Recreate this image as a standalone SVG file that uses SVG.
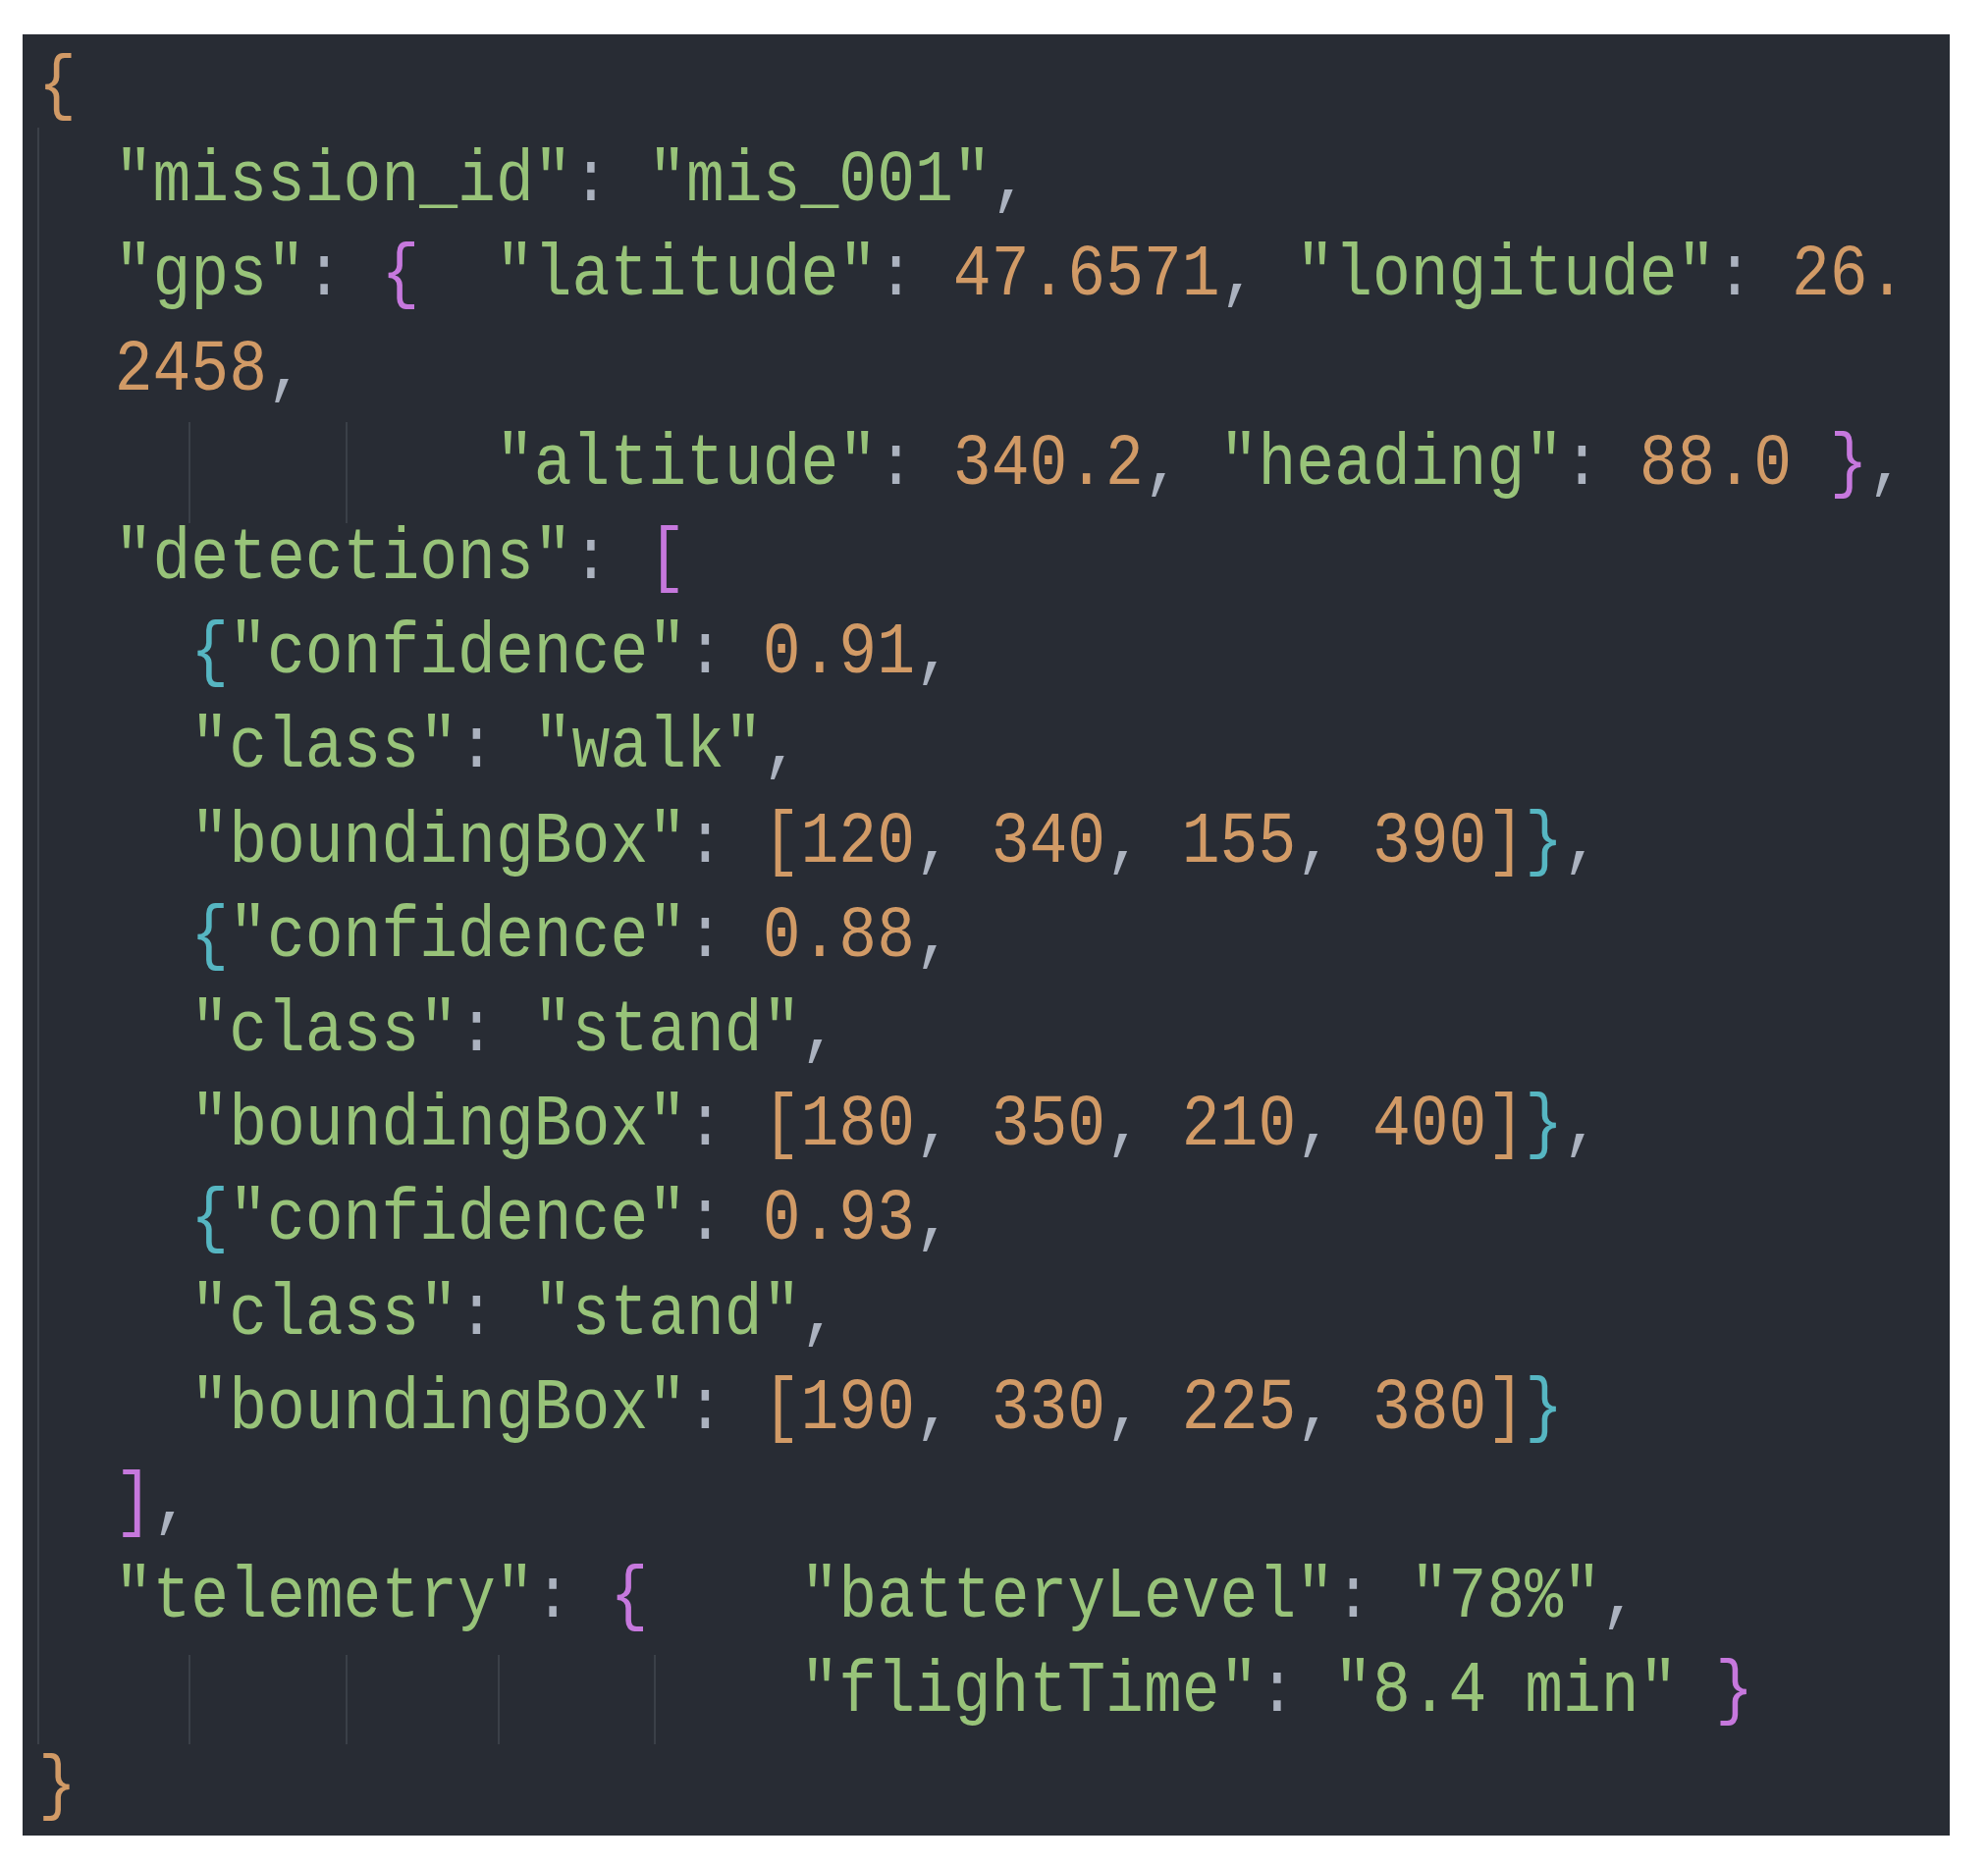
<svg xmlns="http://www.w3.org/2000/svg" width="2025" height="1899" viewBox="0 0 2025 1899">
<style>
text{font-family:"Liberation Mono","DejaVu Sans Mono",monospace;font-size:64.7px;white-space:pre;fill:#abb2bf}
.k{fill:#98c379}.n{fill:#d19a66}.m{fill:#c678dd}.b{fill:#56b6c2}.o{fill:#d19a66}
.g{stroke:#3b4048;stroke-width:2}
</style>
<rect width="2025" height="1899" fill="#ffffff"/>
<rect x="23" y="35" width="1963" height="1835" fill="#282c34"/>
<g id="guides">
<line class="g" x1="39" y1="130" x2="39" y2="1777"/>
<line class="g" x1="193" y1="430" x2="193" y2="533"/>
<line class="g" x1="353" y1="430" x2="353" y2="533"/>
<line class="g" x1="193" y1="1686" x2="193" y2="1777"/>
<line class="g" x1="353" y1="1686" x2="353" y2="1777"/>
<line class="g" x1="508" y1="1686" x2="508" y2="1777"/>
<line class="g" x1="667" y1="1686" x2="667" y2="1777"/>
</g>
<g id="code">
<text transform="translate(39,108) scale(1,1.15)"><tspan class="o">{</tspan></text>
<text transform="translate(39,204) scale(1,1.15)">  <tspan class="k">"mission_id"</tspan>: <tspan class="k">"mis_001"</tspan>,</text>
<text transform="translate(39,300) scale(1,1.15)">  <tspan class="k">"gps"</tspan>: <tspan class="m">{</tspan>  <tspan class="k">"latitude"</tspan>: <tspan class="n">47.6571</tspan>, <tspan class="k">"longitude"</tspan>: <tspan class="n">26.</tspan></text>
<text transform="translate(39,397) scale(1,1.15)">  <tspan class="n">2458</tspan>,</text>
<text transform="translate(39,493) scale(1,1.15)">            <tspan class="k">"altitude"</tspan>: <tspan class="n">340.2</tspan>, <tspan class="k">"heading"</tspan>: <tspan class="n">88.0</tspan> <tspan class="m">}</tspan>,</text>
<text transform="translate(39,589) scale(1,1.15)">  <tspan class="k">"detections"</tspan>: <tspan class="m">[</tspan></text>
<text transform="translate(39,685) scale(1,1.15)">    <tspan class="b">{</tspan><tspan class="k">"confidence"</tspan>: <tspan class="n">0.91</tspan>,</text>
<text transform="translate(39,781) scale(1,1.15)">    <tspan class="k">"class"</tspan>: <tspan class="k">"walk"</tspan>,</text>
<text transform="translate(39,878) scale(1,1.15)">    <tspan class="k">"boundingBox"</tspan>: <tspan class="o">[</tspan><tspan class="n">120</tspan>, <tspan class="n">340</tspan>, <tspan class="n">155</tspan>, <tspan class="n">390</tspan><tspan class="o">]</tspan><tspan class="b">}</tspan>,</text>
<text transform="translate(39,974) scale(1,1.15)">    <tspan class="b">{</tspan><tspan class="k">"confidence"</tspan>: <tspan class="n">0.88</tspan>,</text>
<text transform="translate(39,1070) scale(1,1.15)">    <tspan class="k">"class"</tspan>: <tspan class="k">"stand"</tspan>,</text>
<text transform="translate(39,1166) scale(1,1.15)">    <tspan class="k">"boundingBox"</tspan>: <tspan class="o">[</tspan><tspan class="n">180</tspan>, <tspan class="n">350</tspan>, <tspan class="n">210</tspan>, <tspan class="n">400</tspan><tspan class="o">]</tspan><tspan class="b">}</tspan>,</text>
<text transform="translate(39,1262) scale(1,1.15)">    <tspan class="b">{</tspan><tspan class="k">"confidence"</tspan>: <tspan class="n">0.93</tspan>,</text>
<text transform="translate(39,1359) scale(1,1.15)">    <tspan class="k">"class"</tspan>: <tspan class="k">"stand"</tspan>,</text>
<text transform="translate(39,1455) scale(1,1.15)">    <tspan class="k">"boundingBox"</tspan>: <tspan class="o">[</tspan><tspan class="n">190</tspan>, <tspan class="n">330</tspan>, <tspan class="n">225</tspan>, <tspan class="n">380</tspan><tspan class="o">]</tspan><tspan class="b">}</tspan></text>
<text transform="translate(39,1551) scale(1,1.15)">  <tspan class="m">]</tspan>,</text>
<text transform="translate(39,1647) scale(1,1.15)">  <tspan class="k">"telemetry"</tspan>: <tspan class="m">{</tspan>    <tspan class="k">"batteryLevel"</tspan>: <tspan class="k">"78%"</tspan>,</text>
<text transform="translate(39,1743) scale(1,1.15)">                    <tspan class="k">"flightTime"</tspan>: <tspan class="k">"8.4 min"</tspan> <tspan class="m">}</tspan></text>
<text transform="translate(39,1840) scale(1,1.15)"><tspan class="o">}</tspan></text>
</g>
</svg>
